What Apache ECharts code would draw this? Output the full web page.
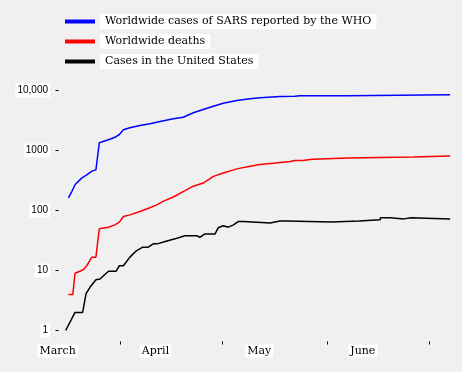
<!DOCTYPE html>
<html>
<head>
<meta charset="utf-8">
<script src="https://cdn.jsdelivr.net/npm/echarts@6/dist/echarts.min.js"></script>
<style>
html,body{margin:0;padding:0;background:#f0f0f0;}
#chart{width:462px;height:372px;}
</style>
</head>
<body>
<div id="chart"></div>
<script>
// x values are days counted from March 1, 2003 (March 1 = 0)
const seriesNames = ['Worldwide cases of SARS reported by the WHO', 'Worldwide deaths', 'Cases in the United States'];

const whoDays  = [15.8,16.8,17.8,19.7,21.2,22.7,23.9,24.9,27.6,29.5,30.8,32.0,33.9,36.9,39.8,42.8,46.7,49.6,52.6,55.5,58.5,61.4,65.4,69.3,72.2,78.1,82.5,84.0,98.0,98.5,128.2];
const whoCases = [163,207,271,346,393,453,476,1343,1507,1660,1848,2213,2390,2610,2782,3041,3375,3590,4250,4820,5480,6150,6810,7270,7550,7940,8050,8200,8200,8460,8460];

const deathDays = [15.8,17.1,17.75,18.25,20.2,21.2,22.7,23.9,24.9,27.6,29.5,30.8,32.0,33.9,36.9,39.8,41.8,43.8,46.7,49.6,52.6,55.5,58.5,61.4,65.4,69.3,72.2,76.1,81.1,82.5,84.8,84.9,87.7,87.8,98.1,98.2,117.3,117.4,128.2];
const deaths    = [4,4,9,9.7,10.3,12,16.7,16.7,49.5,52.7,57.6,64,79.4,84.5,96,111,124,143,168,207,254,287,370,422,494,545,582,612,654,683,683,712,712,752,752,780,780,813,813];

const usDays  = [15.0,17.75,20.0,21.0,22.2,23.9,25.1,27.6,29.8,30.8,32.0,33.9,35.9,37.7,39.3,40.8,42.0,44.3,47.2,48.7,50.1,53.6,54.6,56.0,59.0,59.9,61.4,62.9,64.4,65.8,67.3,67.8,75.2,75.7,78.1,80.1,80.6,93.3,93.4,101.4,101.5,107.6,107.7,110.5,110.6,114.6,114.7,116.7,116.8,128.2];
const usCases = [1,2,2,4.1,5.3,7,7.2,9.7,9.7,12,12,16.7,21.5,24.5,24.5,27.8,27.8,30.4,33.7,35.9,37.9,37.9,35.9,40.7,40.7,51.5,55.6,52.7,57.6,65.4,65.4,62,62,64.5,67,67,64.5,64.5,67,67,70,70,76,76,72.5,72.5,76,76,72.5,72.5];

const monthNames = ['March', 'April', 'May', 'June'];
const monthLabelDays = [12.65, 41.45, 72.0, 102.5];
const monthStartDays = [31, 61, 92, 122];
const yTickValues = [1, 10, 100, 1000, 10000];
const yTickLabels = ['1', '10', '100', '1000', '10,000'];

const zip = (xs, ys) => xs.map((x, i) => [x, ys[i]]);

const chart = echarts.init(document.getElementById('chart'), null, {renderer: 'canvas'});
const colors = ['#0000ff', '#ff0000', '#000000'];
const seriesData = [zip(whoDays, whoCases), zip(deathDays, deaths), zip(usDays, usCases)];

chart.setOption({
  backgroundColor: '#f0f0f0',
  animation: false,
  legend: {
    orient: 'vertical',
    left: 65,
    top: 14,
    padding: 0,
    itemGap: 5,
    itemWidth: 30,
    itemHeight: 4,
    icon: 'rect',
    selectedMode: false,
    data: seriesNames,
    textStyle: {
      fontFamily: 'DejaVu Serif',
      fontSize: 11,
      color: '#000',
      backgroundColor: '#fff',
      lineHeight: 11,
      padding: [2, 5, 2, 5]
    }
  },
  grid: {left: 55.5, top: 90.5, width: 400.7, height: 240},
  xAxis: {
    type: 'value',
    min: 12,
    max: 130,
    offset: 11,
    axisLine: {show: false},
    splitLine: {show: false},
    axisTick: {show: true, length: 3, customValues: monthStartDays, lineStyle: {color: '#000', width: 1}},
    axisLabel: {
      customValues: monthLabelDays,
      align: 'center',
      margin: 3,
      formatter: function (v) {
        const i = monthLabelDays.indexOf(v);
        return i >= 0 ? monthNames[i] : '';
      },
      fontFamily: 'DejaVu Serif',
      fontSize: 11,
      color: '#000',
      backgroundColor: '#fff',
      lineHeight: 11,
      padding: [1, 2, 1, 2]
    }
  },
  yAxis: {
    type: 'log',
    logBase: 10,
    min: 1,
    max: 10000,
    axisLine: {show: false},
    splitLine: {show: false},
    axisTick: {show: true, inside: true, length: 3, lineStyle: {color: '#000', width: 1}},
    axisLabel: {
      margin: 5.5,
      formatter: function (v) {
        const i = yTickValues.indexOf(Math.round(v));
        return i >= 0 ? yTickLabels[i] : '';
      },
      fontFamily: 'Liberation Sans',
      fontSize: 10,
      color: '#000',
      backgroundColor: '#fff',
      lineHeight: 10,
      padding: [2, 2, 2, 2]
    }
  },
  series: seriesNames.map((name, i) => ({
    name: name,
    type: 'line',
    data: seriesData[i],
    showSymbol: false,
    symbol: 'none',
    color: colors[i],
    lineStyle: {color: colors[i], width: 1.5},
    itemStyle: {color: colors[i]}
  }))
});
</script>
</body>
</html>
